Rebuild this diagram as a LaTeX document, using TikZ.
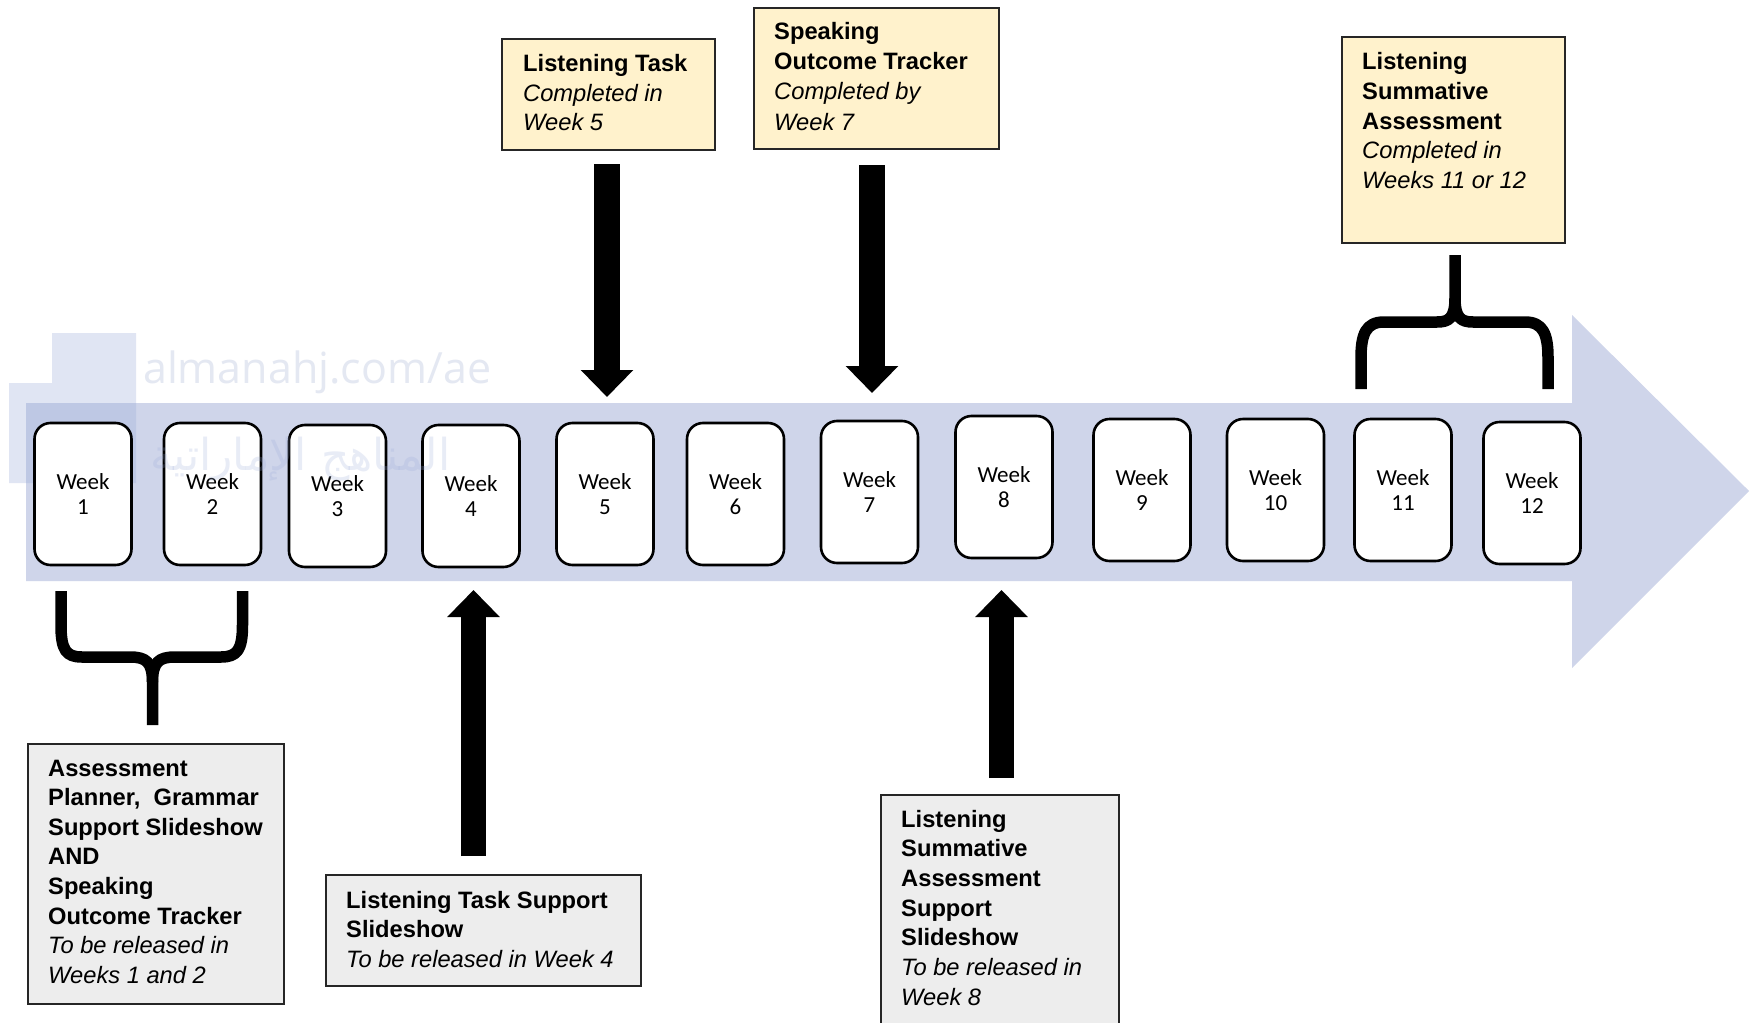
\documentclass[tikz,border=0pt]{standalone}
\usepackage{fontspec}
\setmainfont{Liberation Sans}
\newfontfamily\wkfont{Carlito}
\newfontfamily\wmfont{Open Sans}
\newfontfamily\arabicfont[Script=Arabic]{DejaVu Sans}
\TeXXeTstate=1
\usetikzlibrary{arrows.meta,calc}
\definecolor{bandcol}{HTML}{CFD5EA}
\definecolor{yfill}{HTML}{FFF2CC}
\definecolor{gfill}{HTML}{EDEDED}
\definecolor{wmblue}{HTML}{9AAAD8}
\definecolor{wmtext}{HTML}{E4E8F2}
\begin{document}
\begin{tikzpicture}[x=1pt,y=-1pt,
  weekbox/.style={draw=black, line width=2.6pt, fill=white, rounded corners=16pt,
    minimum width=97pt, minimum height=142pt, inner sep=0pt, align=center,
    font=\wkfont\fontsize{23}{25.5}\selectfont},
  ynote/.style={draw=black!85, line width=2pt, fill=yfill, inner sep=0pt, anchor=north west},
  gnote/.style={draw=black!85, line width=2pt, fill=gfill, inner sep=0pt, anchor=north west},
  bln/.style={anchor=base west, inner sep=0pt, font=\bfseries\fontsize{23.7}{28}\selectfont},
  iln/.style={anchor=base west, inner sep=0pt, font=\itshape\fontsize{23.7}{28}\selectfont},
  block/.style={line width=25.5pt, -{Triangle[width=51pt,length=27pt]}},
  bracket/.style={line width=11.5pt, line join=round}
]
\useasboundingbox (0,0) rectangle (1752,1022);
\fill[white] (0,0) rectangle (1752,1022);

% timeline band arrow
\fill[bandcol] (26,403) -- (1572,403) -- (1572,315) -- (1749,491) -- (1572,668)
  -- (1572,581) -- (26,581) -- cycle;

% watermark
\fill[wmblue, opacity=0.3] (52,333) -- (136,333) -- (136,483) -- (9,483) -- (9,383) -- (52,383) -- cycle;
\node[anchor=base west, inner sep=0pt, font=\wmfont\fontsize{43}{43}\selectfont, text=wmtext] (wmurl) at (143,383) {almanahj.com/ae};

% week boxes
\node[weekbox] (w1) at (83,494) {Week\\1};
\node[weekbox] (w2) at (212.5,494) {Week\\2};
\node[weekbox] (w3) at (337.5,496) {Week\\3};
\node[weekbox] (w4) at (471,496) {Week\\4};
\node[weekbox] (w5) at (605,494) {Week\\5};
\node[weekbox] (w6) at (735.5,494) {Week\\6};
\node[weekbox] (w7) at (869.5,492) {Week\\7};
\node[weekbox] (w8) at (1004,487) {Week\\8};
\node[weekbox] (w9) at (1142,490) {Week\\9};
\node[weekbox] (w10) at (1275.5,490) {Week\\10};
\node[weekbox] (w11) at (1403,490) {Week\\11};
\node[weekbox] (w12) at (1532,493) {Week\\12};

\node[anchor=base west, inner sep=0pt, font=\arabicfont\fontsize{44}{44}\selectfont, text=wmblue, text opacity=0.22] (wmar) at (150,470) {\beginR المناهج الإماراتية\endR};

% top notes
\node[ynote, minimum width=213pt, minimum height=111pt] (lt) at (501,38) {};
\node[bln] (lt1) at (523,72) {Listening Task};
\node[iln] (lt2) at (523,102) {Completed in};
\node[iln] (lt3) at (523,131) {Week 5};

\node[ynote, minimum width=245pt, minimum height=141pt] (sot) at (753,7) {};
\node[bln] (sot1) at (774,40) {Speaking};
\node[bln] (sot2) at (774,70) {Outcome Tracker};
\node[iln] (sot3) at (774,100) {Completed by};
\node[iln] (sot4) at (774,130) {Week 7};

\node[ynote, minimum width=223pt, minimum height=206pt] (lsa) at (1341,36) {};
\node[bln] (lsa1) at (1362,70) {Listening};
\node[bln] (lsa2) at (1362,99.5) {Summative};
\node[bln] (lsa3) at (1362,129) {Assessment};
\node[iln] (lsa4) at (1362,158.5) {Completed in};
\node[iln] (lsa5) at (1362,188) {Weeks 11 or 12};

% bottom notes
\node[gnote, minimum width=256pt, minimum height=260pt] (g1) at (27,743) {};
\node[bln] (g1a) at (48,776) {Assessment};
\node[bln] (g1b) at (48,805.6) {Planner, \ Grammar};
\node[bln] (g1c) at (48,835.2) {Support Slideshow};
\node[bln] (g1d) at (48,864.8) {AND};
\node[bln] (g1e) at (48,894.4) {Speaking};
\node[bln] (g1f) at (48,924) {Outcome Tracker};
\node[iln] (g1g) at (48,953.6) {To be released in};
\node[iln] (g1h) at (48,983.2) {Weeks 1 and 2};

\node[gnote, minimum width=315pt, minimum height=111pt] (g2) at (325,874) {};
\node[bln] (g2a) at (346,908) {Listening Task Support};
\node[bln] (g2b) at (346,937.5) {Slideshow};
\node[iln] (g2c) at (346,967) {To be released in Week 4};

\node[gnote, minimum width=238pt, minimum height=260pt] (g3) at (880,794) {};
\node[bln] (g3a) at (901,827) {Listening};
\node[bln] (g3b) at (901,856.7) {Summative};
\node[bln] (g3c) at (901,886.4) {Assessment};
\node[bln] (g3d) at (901,916.1) {Support};
\node[bln] (g3e) at (901,945.8) {Slideshow};
\node[iln] (g3f) at (901,975.5) {To be released in};
\node[iln] (g3g) at (901,1005.2) {Week 8};

% block arrows
\coordinate (a1s) at (607,164);   \coordinate (a1e) at (607,397);
\coordinate (a2s) at (872,165);   \coordinate (a2e) at (872,393);
\coordinate (a3s) at (473.5,856); \coordinate (a3e) at (473.5,590);
\coordinate (a4s) at (1001.5,778); \coordinate (a4e) at (1001.5,590);
\draw[block] (a1s) -- (a1e);
\draw[block] (a2s) -- (a2e);
\draw[block] (a3s) -- (a3e);
\draw[block] (a4s) -- (a4e);

% braces
\draw[bracket] (1455,255) -- (1455,298) .. controls (1455,318) and (1449,322) .. (1437,322)
  -- (1384,322) .. controls (1366,322) and (1361,334) .. (1361,358) -- (1361,389);
\draw[bracket] (1455,298) .. controls (1455,318) and (1461,322) .. (1473,322)
  -- (1525,322) .. controls (1543,322) and (1548,334) .. (1548,358) -- (1548,389);

\draw[bracket] (61,591) -- (61,625) .. controls (61,650) and (66,657) .. (82,657)
  -- (130,657) .. controls (146,657) and (152.5,662) .. (152.5,682) -- (152.5,725);
\draw[bracket] (242.5,591) -- (242.5,625) .. controls (242.5,650) and (237,657) .. (221,657)
  -- (175,657) .. controls (159,657) and (152.5,662) .. (152.5,682);
\end{tikzpicture}
\end{document}
